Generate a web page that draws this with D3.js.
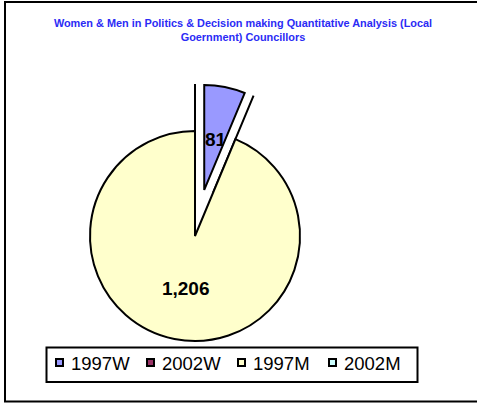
<!DOCTYPE html>
<html>
<head>
<meta charset="utf-8">
<script src="https://cdn.jsdelivr.net/npm/d3@7"></script>
<style>
  html, body { margin: 0; padding: 0; background: #fff; }
  svg { display: block; }
</style>
</head>
<body>
<script>
// Councillors by sex and election year
const categories = ["1997W", "2002W", "1997M", "2002M"];
const values = [81, 0, 1206, 0];
const colors = ["#9999FF", "#993366", "#FFFFCC", "#CCFFFF"];
const explodedSlices = ["1997W", "2002W", "2002M"];
const titleLines = [
  "Women & Men in Politics & Decision making Quantitative Analysis (Local",
  "Goernment) Councillors"
];

const W = 477, H = 404;
const cx = 195, cy = 236, R = 105, explode = 47;

const svg = d3.select("body").append("svg")
  .attr("width", W).attr("height", H);

// outer chart frame (right edge runs past the window)
svg.append("rect")
  .attr("x", 5).attr("y", 2)
  .attr("width", 490).attr("height", 399.5)
  .attr("fill", "#fff").attr("stroke", "#000").attr("stroke-width", 2);

// title, in a narrow bold face
const titleY = [26.5, 41];
titleLines.forEach((t, i) => {
  svg.append("text")
    .attr("x", 243).attr("y", titleY[i])
    .attr("text-anchor", "middle")
    .attr("font-family", "'Liberation Sans Narrow', 'Arial Narrow', Arial, sans-serif")
    .attr("font-weight", "bold")
    .attr("font-size", 10.9)
    .attr("fill", "#2B2BF5")
    .text(t);
});

const data = categories.map((c, i) => ({ cat: c, value: values[i], color: colors[i] }));
const pie = d3.pie().sort(null).value(d => d.value).startAngle(0).endAngle(2 * Math.PI);
const arcs = pie(data);
const arc = d3.arc().innerRadius(0).outerRadius(R);
const labelArc = d3.arc().innerRadius(R * 0.5).outerRadius(R * 0.5);

function offsetOf(a) {
  if (!explodedSlices.includes(a.data.cat)) return [0, 0];
  const m = (a.startAngle + a.endAngle) / 2;
  return [explode * Math.sin(m), -explode * Math.cos(m)];
}

const g = svg.append("g").attr("transform", `translate(${cx},${cy})`);
const defs = svg.append("defs");

arcs.forEach((a, i) => {
  const [ox, oy] = offsetOf(a);
  g.append("path")
    .attr("transform", `translate(${ox},${oy})`)
    .attr("d", arc(a))
    .attr("fill", a.data.color)
    .attr("stroke", "#000")
    .attr("stroke-width", 2)
    .attr("stroke-linejoin", "miter");
  defs.append("clipPath").attr("id", "clip" + i)
    .append("path")
    .attr("transform", `translate(${ox},${oy})`)
    .attr("d", arc(a));
});

// value labels, kept inside their own slice
arcs.filter(a => a.value > 0).forEach(a => {
  const i = arcs.indexOf(a);
  const [ox, oy] = offsetOf(a);
  const [lx, ly] = labelArc.centroid(a);
  g.append("g").attr("clip-path", `url(#clip${i})`)
    .append("text")
    .attr("x", lx + ox + 1).attr("y", ly + oy + 8)
    .attr("text-anchor", "middle")
    .attr("font-family", "Arial, 'Liberation Sans', sans-serif")
    .attr("font-weight", "bold")
    .attr("font-size", 19)
    .attr("fill", "#000")
    .text(d3.format(",")(a.value));
});

// legend
const lg = svg.append("g");
lg.append("rect")
  .attr("x", 46.5).attr("y", 347.5)
  .attr("width", 371).attr("height", 34.5)
  .attr("fill", "#fff").attr("stroke", "#000").attr("stroke-width", 2);
const legendX = d3.scalePoint().domain(categories).range([55, 328]);
categories.forEach((c, i) => {
  const x = legendX(c);
  lg.append("rect")
    .attr("x", x + 1).attr("y", 359)
    .attr("width", 7).attr("height", 7)
    .attr("fill", colors[i]).attr("stroke", "#000").attr("stroke-width", 2);
  lg.append("text")
    .attr("x", x + 16).attr("y", 370)
    .attr("font-family", "Arial, 'Liberation Sans', sans-serif")
    .attr("font-size", 18.5)
    .attr("fill", "#000")
    .text(c);
});
</script>
</body>
</html>
